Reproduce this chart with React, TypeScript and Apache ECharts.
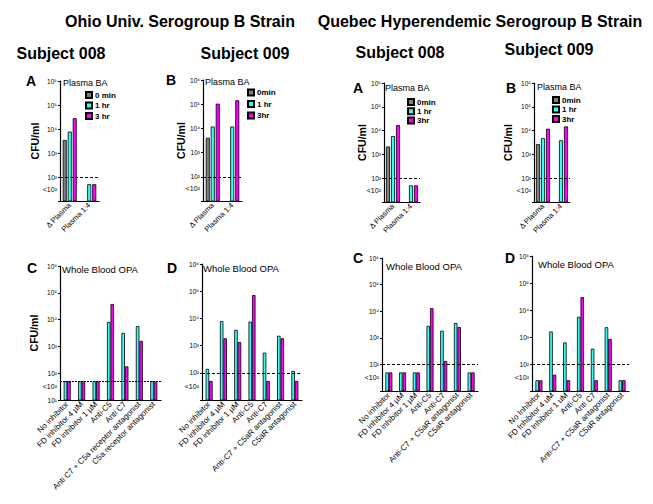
import React, { useEffect, useRef } from 'react';
import * as echarts from 'echarts';

// ---------- data ----------
const plasmaCats = ['Δ Plasma', 'Plasma 1:4'];

const ohio008_0min = [3500, null];
const ohio008_1hr = [7800, 50];
const ohio008_3hr = [28000, 50];

const ohio009_0min = [4100, null];
const ohio009_1hr = [12000, 12000];
const ohio009_3hr = [105000, 145000];

const quebec008_0min = [2150, null];
const quebec008_1hr = [5900, 50];
const quebec008_3hr = [17000, 50];

const quebec009_0min = [2700, null];
const quebec009_1hr = [4800, 3900];
const quebec009_3hr = [12000, 15000];

const opaCatsOhio008 = ['No inhibitor', 'FD inhibitor 4 µM', 'FD inhibitor 1 µM', 'Anti-C5', 'Anti C7', 'Anti C7 + C5a receptor antagonist', 'C5a receptor antagonist'];
const opaCatsOhio009 = ['No inhibitor', 'FD inhibitor 4 µM', 'FD inhibitor 1 µM', 'Anti-C5', 'Anti-C7', 'Anti-C7 + C5aR antagonist', 'C5aR antagonist'];
const opaCatsQuebec008 = ['No inhibitor', 'FD inhibitor 4 µM', 'FD inhibitor 1 µM', 'Anti-C5', 'Anti-C7', 'Anti-C7 + C5aR antagonist', 'C5aR antagonist'];
const opaCatsQuebec009 = ['No Inhibitor', 'FD Inhibitor 4 uM', 'FD Inhibitor 1 uM', 'Anti-C5', 'Anti C7', 'Anti-C7 + C5aR antagonist', 'C5aR antagonist'];

const opaOhio008_1hr = [50, 50, 50, 8100, 3200, 5700, 50];
const opaOhio008_3hr = [50, 50, 50, 38000, 180, 1600, 50];
const opaOhio009_1hr = [140, 8000, 3800, 7600, 550, 2300, 117];
const opaOhio009_3hr = [50, 1850, 1350, 72000, 50, 1850, 50];
const opaQuebec008_1hr = [50, 50, 50, 2800, 1850, 3600, 50];
const opaQuebec008_3hr = [50, 50, 50, 13000, 135, 2550, 50];
const opaQuebec009_1hr = [25, 1600, 630, 5600, 370, 2300, 25];
const opaQuebec009_3hr = [25, 40, 25, 30000, 25, 850, 25];

const thresholds = [100, 100, 100, 100, 50, 100, 100, 100];

const supDigits = ['⁰', '¹', '²', '³', '⁴', '⁵', '⁶'];
const belowLimitLabel = '<10²';
const belowLimitValue = 31.6;

const legendNamesOhioA = ['0 min', '1 hr', '3 hr'];
const legendNamesOther = ['0min', '1 hr', '3hr'];

const strainTitles = ['Ohio Univ. Serogroup B Strain', 'Quebec Hyperendemic Serogroup B Strain'];
const subjectTitles = ['Subject 008', 'Subject 009', 'Subject 008', 'Subject 009'];
const panelLetters = ['A', 'B', 'A', 'B', 'C', 'D', 'C', 'D'];
const panelTitles = ['Plasma BA', 'Plasma BA', 'Plasma BA', 'Plasma BA', 'Whole Blood OPA', 'Whole Blood OPA', 'Whole Blood OPA', 'Whole Blood OPA'];
const yName = 'CFU/ml';

// ---------- styles / layout ----------
const GRAY = '#7f7f7f';
const CYAN = '#33fff5';
const MAGENTA = '#ff00ff';
const FONT = '"Liberation Sans", Arial, sans-serif';
const NARROW = '"Liberation Sans Narrow", "Arial Narrow", "Liberation Sans", Arial, sans-serif';

const grids = [
  { left: 60, top: 81, width: 39, height: 120 },
  { left: 203, top: 80, width: 39, height: 121 },
  { left: 384, top: 83, width: 36, height: 119 },
  { left: 534, top: 83, width: 36, height: 119 },
  { left: 60, top: 266, width: 101, height: 134 },
  { left: 202, top: 264, width: 100, height: 136 },
  { left: 382, top: 258, width: 96, height: 133 },
  { left: 532, top: 256, width: 97, height: 135 },
];
const yNameGaps = [20, 15, 17, 21, 21, 0, 0, 0];
const showTen = [false, false, false, false, true, false, false, false];
const letterPos = [[31, 81], [171, 80], [358, 88], [511, 88], [32, 268], [172, 268], [358, 258], [510, 258]];
const titlePos = [[63, 83], [205, 82], [385, 88], [537, 87], [62, 269], [203, 268], [386, 266], [538, 264]];
const legendPos = [[85, 91, 2.5], [247, 88.5, 3.5], [407, 98, 1.3], [552, 96, 1.5]];

export default function App() {
  const ref = useRef<HTMLDivElement>(null);
  useEffect(() => {
    if (!ref.current) return;
    const chart = echarts.init(ref.current, null, { renderer: 'svg' });

    const xCats = [plasmaCats, plasmaCats, plasmaCats, plasmaCats, opaCatsOhio008, opaCatsOhio009, opaCatsQuebec008, opaCatsQuebec009];

    const xAxis = xCats.map((cats, i) => ({
      type: 'category',
      gridIndex: i,
      data: cats,
      axisLine: { show: true, lineStyle: { color: '#000', width: 1.2 } },
      axisTick: { show: false },
      axisLabel: { rotate: 45, interval: 0, fontSize: i < 4 ? 7.5 : 8, color: '#000', margin: 3, fontFamily: FONT },
    }));

    const yAxis = grids.map((g, i) => ({
      type: 'log',
      logBase: 10,
      gridIndex: i,
      min: 10,
      max: 1000000,
      name: yNameGaps[i] ? yName : '',
      nameLocation: 'middle',
      nameGap: yNameGaps[i],
      nameTextStyle: { fontSize: 10.5, fontWeight: 'bold', color: '#000', fontFamily: FONT },
      axisLine: { show: true, lineStyle: { color: '#000', width: 1.2 } },
      axisTick: { show: true, length: 2, lineStyle: { color: '#000' } },
      splitLine: { show: false },
      axisLabel: {
        fontSize: 6.5,
        color: '#000',
        margin: 3,
        fontFamily: FONT,
        formatter: (v: number) => {
          const e = Math.round(Math.log10(v));
          if (e === 1 && !showTen[i]) return '';
          return '10' + supDigits[e];
        },
      },
    }));

    const markLine = (i: number) => ({
      silent: true,
      symbol: 'none',
      label: { show: false },
      lineStyle: { color: '#000', type: i === 4 ? [2, 1] : [3, 2], width: 1 },
      data: [{ yAxis: thresholds[i] }],
    });

    const topSets = [
      [ohio008_0min, ohio008_1hr, ohio008_3hr],
      [ohio009_0min, ohio009_1hr, ohio009_3hr],
      [quebec008_0min, quebec008_1hr, quebec008_3hr],
      [quebec009_0min, quebec009_1hr, quebec009_3hr],
    ];
    const bottomSets = [
      [opaOhio008_1hr, opaOhio008_3hr],
      [opaOhio009_1hr, opaOhio009_3hr],
      [opaQuebec008_1hr, opaQuebec008_3hr],
      [opaQuebec009_1hr, opaQuebec009_3hr],
    ];
    const series: any[] = [];
    const topColors = [GRAY, CYAN, MAGENTA];
    topSets.forEach((set, p) => {
      const names = p === 0 ? legendNamesOhioA : legendNamesOther;
      set.forEach((d, k) => {
        series.push({
          type: 'bar',
          name: names[k],
          xAxisIndex: p,
          yAxisIndex: p,
          data: d,
          barWidth: 4,
          barGap: '25%',
          itemStyle: { color: topColors[k], borderColor: '#000', borderWidth: 0.8 },
          markLine: k === 0 ? markLine(p) : undefined,
        });
      });
    });
    bottomSets.forEach((set, q) => {
      const p = q + 4;
      set.forEach((d, k) => {
        series.push({
          type: 'bar',
          name: k === 0 ? '1 hr' : '3hr',
          xAxisIndex: p,
          yAxisIndex: p,
          data: d,
          barWidth: 3.5,
          barGap: '0%',
          itemStyle: { color: k === 0 ? CYAN : MAGENTA, borderColor: '#000', borderWidth: 0.8 },
          markLine: k === 0 ? markLine(p) : undefined,
        });
      });
    });

    const legend = legendPos.map(([l, t, gap], p) => ({
      orient: 'vertical',
      left: l,
      top: t,
      padding: 0,
      itemGap: gap,
      itemWidth: 6,
      itemHeight: 6,
      icon: 'rect',
      selectedMode: false,
      data: p === 0 ? legendNamesOhioA : legendNamesOther,
      textStyle: { fontSize: 8, fontWeight: 'bold', color: '#000', fontFamily: NARROW, lineHeight: 8, padding: [0, 0, 0, -2] },
    }));

    const option: any = {
      animation: false,
      backgroundColor: '#fff',
      grid: grids.map((g) => ({ ...g, containLabel: false })),
      xAxis,
      yAxis,
      series,
      legend,
    };
    chart.setOption(option);

    const graphic: any[] = [];
    const txt = (text: string, x: number, y: number, fontSize: number, fontWeight: string, align: string, family = FONT) => ({
      type: 'text',
      x,
      y,
      silent: true,
      style: { text, fontSize, fontWeight, fill: '#000', align, verticalAlign: 'middle', fontFamily: family },
    });
    graphic.push(txt(strainTitles[0], 180, 21, 16, 'bold', 'center', NARROW));
    graphic.push(txt(strainTitles[1], 480, 21, 16, 'bold', 'center', NARROW));
    const subjX = [[61, 53], [245, 53], [400, 52], [549, 49]];
    subjectTitles.forEach((s, i) => graphic.push(txt(s, subjX[i][0], subjX[i][1], 16, 'bold', 'center', NARROW)));
    panelLetters.forEach((s, i) => graphic.push(txt(s, letterPos[i][0], letterPos[i][1], 14, 'bold', 'center')));
    panelTitles.forEach((s, i) => graphic.push(txt(s, titlePos[i][0], titlePos[i][1], i < 4 ? 9 : 9.5, 'normal', 'left')));
    grids.forEach((g, i) => {
      const y = chart.convertToPixel({ yAxisIndex: i } as any, belowLimitValue) as number;
      graphic.push(txt(belowLimitLabel, g.left - 3, y, 7, 'normal', 'right'));
    });
    chart.setOption({ graphic });

    return () => chart.dispose();
  }, []);
  return <div ref={ref} style={{ position: 'absolute', left: 0, top: 0, width: 653, height: 504 }} />;
}
